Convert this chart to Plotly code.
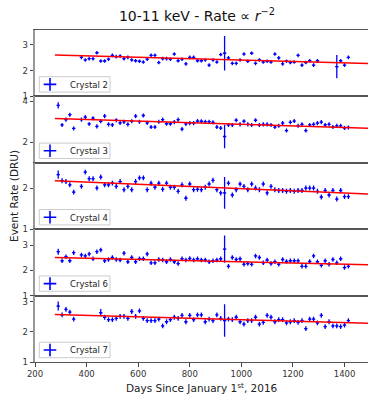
import plotly.graph_objects as go
from plotly.subplots import make_subplots

N = None
days = [290, 305, 320, 335, 350, 365, 380, 395, 410, 425, 440, 455, 470, 485, 500, 515,
        530, 545, 560, 575, 590, 605, 620, 635, 650, 665, 680, 695, 710, 725, 740, 755,
        770, 785, 800, 815, 830, 845, 860, 875, 890, 905, 920, 935, 950, 965, 980, 995,
        1010, 1025, 1040, 1055, 1070, 1085, 1100, 1115, 1130, 1145, 1160, 1175, 1190,
        1205, 1220, 1235, 1250, 1265, 1280, 1295, 1310, 1325, 1340, 1355, 1370, 1385,
        1400, 1415]

crystal2 = [N, N, N, N, N, N,
            2.51, 2.41, 2.46, 2.46, 2.69, 2.37, 2.37, 2.44, 2.59, 2.54,
            2.56, 2.46, 2.51, 2.41, 2.38, 2.36, 2.33, 2.44, 2.59, 2.59,
            2.31, 2.46, 2.46, 2.44, 2.64, 2.38, 2.44, 2.26, 2.51, 2.51,
            2.38, 2.38, 2.41, 2.21, 2.41, 2.33, 2.62, 2.67, 2.49, 2.28,
            2.28, 2.41, 2.64, 2.36, 2.67, 2.28, 2.41, 2.33, 2.36, 2.33,
            2.64, 2.49, 2.26, 2.36, 2.31, 2.33, 2.59, 2.21, 2.31, 2.38,
            2.21, 2.38,
            N, N, N, N,
            2.15, 2.38, 2.21, 2.51]
crystal3 = [3.79, 2.84, 3.10, 3.34, 2.67, N,
            3.10, 3.22, 2.89, 3.17, 2.77, 3.02, 3.27, 2.87, 2.84, 3.07, 2.94, 2.99, 2.87,
            3.02, 3.27, 3.00, 3.30, 2.94,
            2.74, 2.74, 3.00, 3.10, 2.90, 2.90, 2.98, 3.10, 2.64, 2.89, 2.93, 2.93, 3.03,
            3.02, 3.00, 3.00, 2.97, 2.74, 2.69, 2.28,
            2.84, 2.84, 3.07, 2.87, 3.02, 2.87, 2.84, 3.07, 2.84, 2.87,
            2.87, 2.84, 2.74, 2.80, 2.93, 2.57, 2.97, 3.03, 2.80, 2.87,
            2.57, 2.84, 2.87, 2.93, 2.98, 2.84, 2.87, 2.74, 2.80, 2.80,
            2.69, 2.72]
crystal4 = [2.34, 2.19, 2.17, 2.09, 1.91, N,
            2.05, 2.40, 2.24, 2.24, 2.01, 2.28, 2.09, 2.09, 2.13, 2.05, 2.17, 1.97, 2.05,
            1.97, 2.17, 2.26, 2.26, 1.97,
            2.13, 2.03, 2.13, 1.98, 2.13, 2.03, 2.03, 1.93, 2.09, 1.76, 2.11, 1.97, 1.98,
            1.97, 2.03, 2.11, 2.20, 1.97, 1.89, 1.89,
            2.13, 1.84, 1.97, 2.11, 2.05, 1.97, 2.11, 2.01, 1.97, 2.11,
            1.89, 2.05, 1.97, 1.95, 1.95, 1.93, 1.95, 1.93, 1.95, 1.95,
            2.01, 2.01, 2.01, 1.93, 1.79, 1.95, 1.84, 1.95, 1.74, 1.95,
            1.80, 1.80]
crystal6 = [2.74, 2.38, 2.54, 2.38, 2.70, N,
            2.61, 2.57, 2.65, 2.46, 2.74, 2.81, 2.38, 2.43, 2.51, 2.43, 2.41, 2.68, 2.34,
            2.51, 2.34, 2.46, 2.46, 2.65,
            2.30, 2.30, 2.43, 2.41, 2.34, 2.43, 2.34, 2.27, 2.46, 2.41, 2.47, 2.41, 2.46,
            2.41, 2.41, 2.34, 2.38, 2.41, 2.46, 2.84,
            2.16, 2.51, 2.43, 2.46, 2.24, 2.27, 2.24, 2.57, 2.51, 2.30,
            2.41, 2.27, 2.34, 2.24, 2.43, 2.35, 2.38, 2.38, 2.38, 2.16,
            2.16, 2.35, 2.57, 2.34, 2.20, 2.38, 2.24, 2.43, 2.30, 2.46,
            2.11, 2.16]
crystal7 = [2.86, 2.57, 2.75, 2.66, 2.43, N, N, N, N, N, N,
            2.64, 2.49, 2.41, 2.41, 2.45, 2.52, 2.52, 2.45, 2.68, 2.52,
            2.70, 2.45, 2.38, 2.38, 2.38, 2.43, 2.20, 2.34, 2.41, 2.49,
            2.45, 2.55, 2.34, 2.55, 2.41, 2.57, 2.57, 2.34, 2.43, 2.38,
            2.57, 2.45,
            2.38,
            2.43, 2.41, 2.49, 2.34, 2.26, 2.38, 2.38, 2.49, 2.26, 2.32,
            2.55, 2.49, 2.34, 2.41, 2.41, 2.30, 2.34, 2.38, 2.32, 2.38,
            2.11, 2.43, 2.43, 2.30, 2.55, 2.18, 2.34, 2.20, 2.20, 2.18,
            2.23, 2.38]

# typical error and the few larger ones (index, error)
err_base = [0.07, 0.10, 0.06, 0.09, 0.08]
err_big = [[(43, 0.67), (72, 0.45)],
           [(0, 0.15), (43, 0.57)],
           [(0, 0.10), (43, 0.39)],
           [(0, 0.12), (43, 0.54)],
           [(0, 0.15), (11, 0.12), (43, 0.54)]]
x_err = 6.5

names = ["Crystal 2", "Crystal 3", "Crystal 4", "Crystal 6", "Crystal 7"]
series = [crystal2, crystal3, crystal4, crystal6, crystal7]

fit_days = [277, 1500]
fit_vals = [[2.60, 2.27], [3.15, 2.68], [2.19, 1.86], [2.51, 2.22], [2.58, 2.29]]

y_ranges = [[1, 3.57], [1, 4.23], [1, 2.63], [1, 3.63], [1, 3.21]]
y_ticks = [[1, 2, 3], [2, 4], [1, 2], [1, 2, 3], [1, 2, 3]]
x_ticks = [200, 400, 600, 800, 1000, 1200, 1400]

FONT = "DejaVu Sans"
W, H = 368, 396
ML, MR, MT, MB = 35, 0, 30, 34
plot_w = W - ML - MR
plot_h = H - MT - MB

# legend box geometry in pixels
BOX_L, BOX_R, BOX_H, BOX_GAP = 39.3, 110.0, 15.4, 4.3
SYM_X = 50.0

fig = make_subplots(rows=5, cols=1, shared_xaxes=True, vertical_spacing=0)

for k in range(5):
    row = k + 1
    errs = [err_base[k]] * len(days)
    for idx, e in err_big[k]:
        errs[idx] = e
    fig.add_trace(go.Scatter(
        x=days, y=series[k], mode="markers",
        marker=dict(size=2, color="#0000ff"),
        error_y=dict(type="data", array=errs, width=0, thickness=1.3, color="#0000ff"),
        error_x=dict(type="constant", value=x_err, width=0, thickness=1.3, color="#0000ff"),
        showlegend=False, hoverinfo="skip"), row=row, col=1)
    fig.add_trace(go.Scatter(
        x=fit_days, y=fit_vals[k], mode="lines",
        line=dict(color="#ff0000", width=1.5),
        showlegend=False, hoverinfo="skip"), row=row, col=1)
    lg = "legend" if k == 0 else f"legend{k + 1}"
    fig.add_trace(go.Scatter(
        x=[None], y=[None], mode="markers", name=names[k],
        marker=dict(symbol="cross-thin", size=9, color="#0000ff",
                    line=dict(width=1.6, color="#0000ff")),
        legend=lg), row=row, col=1)

    yname = "yaxis" if k == 0 else f"yaxis{k + 1}"
    xname = "xaxis" if k == 0 else f"xaxis{k + 1}"
    fig.layout[yname].update(
        range=y_ranges[k], tickvals=y_ticks[k], ticks="outside", ticklen=3.5,
        tickwidth=1, tickcolor="#444", showline=True, linecolor="#999",
        linewidth=1.6, showgrid=False, zeroline=False,
        tickfont=dict(family=FONT, size=8.5, color="#333"))
    fig.layout[xname].update(
        range=[200, 1491], showline=True, mirror=True, linecolor="#555",
        linewidth=1, showgrid=False, zeroline=False,
        tickvals=x_ticks, ticks="outside" if k == 4 else "", ticklen=3.5,
        tickcolor="#444", showticklabels=(k == 4),
        tickfont=dict(family=FONT, size=8.5, color="#333"))

    # legend frame in the lower left of each panel
    bottom_px = MT + plot_h * (k + 1) / 5
    y0 = (H - MB - (bottom_px - BOX_GAP)) / plot_h
    y1 = (H - MB - (bottom_px - BOX_GAP - BOX_H)) / plot_h
    fig.add_shape(type="rect", xref="paper", yref="paper",
                  x0=(BOX_L - ML) / plot_w, x1=(BOX_R - ML) / plot_w, y0=y0, y1=y1,
                  line=dict(color="#cccccc", width=1),
                  fillcolor="rgba(255,255,255,0.85)", layer="above")
    fig.layout[lg] = dict(
        x=(SYM_X - 20 - ML) / plot_w, xanchor="left", y=(y0 + y1) / 2, yanchor="middle",
        bgcolor="rgba(0,0,0,0)", borderwidth=0,
        font=dict(family=FONT, size=8.5, color="#222"), itemwidth=30)

fig.update_layout(
    width=W, height=H,
    margin=dict(l=ML, r=MR, t=MT, b=MB),
    paper_bgcolor="white", plot_bgcolor="white",
    font=dict(family=FONT, color="#222"),
    title=dict(text="10-11 keV - Rate \u221d <i>r</i><sup>\u22122</sup>",
               x=197 / W, xanchor="center", xref="container",
               y=1 - 16 / H, yanchor="middle", yref="container",
               font=dict(family=FONT, size=14, color="#111")),
)

fig.add_annotation(text="Days Since January 1<sup>st</sup>, 2016",
                   xref="paper", yref="paper", x=0.5, y=-(387 - (H - MB)) / plot_h,
                   xanchor="center", yanchor="middle", showarrow=False,
                   font=dict(family=FONT, size=10.5, color="#222"))
fig.add_annotation(text="Event Rate (DRU)", textangle=-90,
                   xref="paper", yref="paper", x=-(ML - 14) / plot_w, y=0.5,
                   xanchor="center", yanchor="middle", showarrow=False,
                   font=dict(family=FONT, size=10.5, color="#222"))

fig.write_html("out.html")
